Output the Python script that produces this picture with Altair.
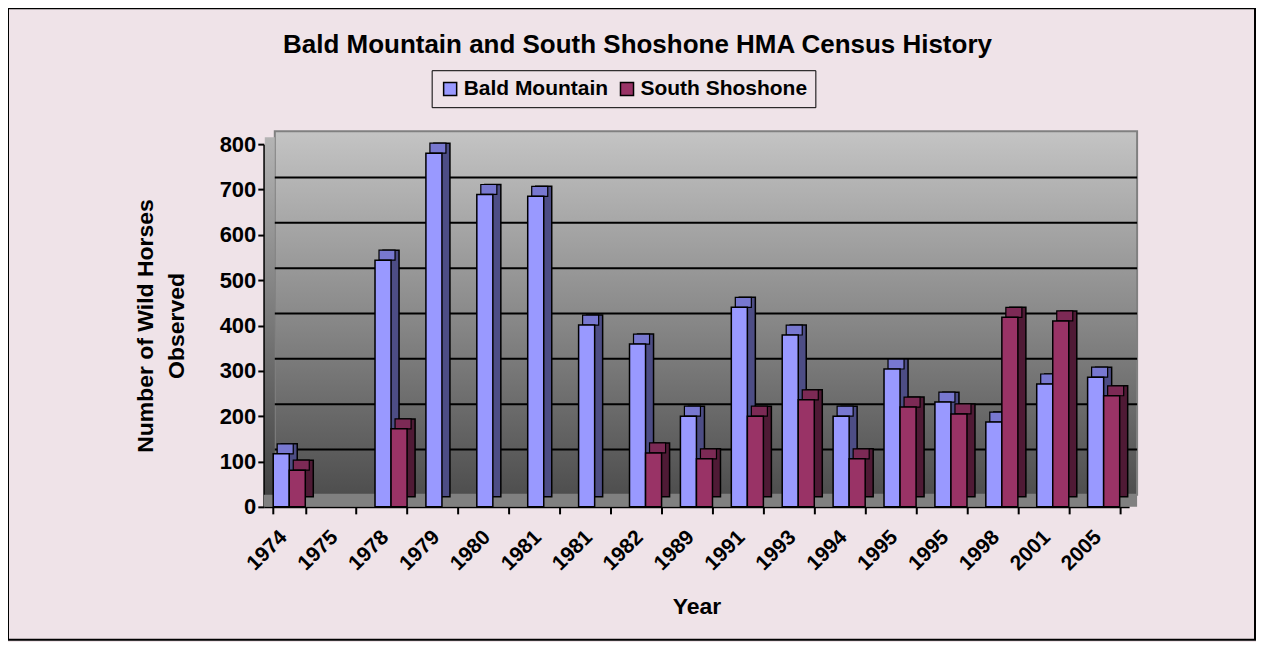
import altair as alt
import pandas as pd

years = ["1974", "1975", "1978", "1979", "1980", "1981", "1981", "1982", "1989",
         "1991", "1993", "1994", "1995", "1995", "1998", "2001", "2005"]
bald_mountain = [117, None, 544, 780, 689, 685, 401, 359, 200, 440, 379, 200, 304, 231, 187, 271, 286]
south_shoshone = [81, None, 172, None, None, None, None, 119, 106, 200, 236, 106, 220, 205, 418, 410, 245]
series = ["Bald Mountain", "South Shoshone"]
front_colors = ["#9999FF", "#993366"]
side_colors = ["#4D4D85", "#4F1A35"]
top_colors = ["#7878D0", "#7C2A55"]
y_ticks = [0, 100, 200, 300, 400, 500, 600, 700, 800]
grid_values = [100, 200, 300, 400, 500, 600, 700]
title_text = "Bald Mountain and South Shoshone HMA Census History"

rows = []
for i, y in enumerate(years):
    for k, vals in enumerate([bald_mountain, south_shoshone]):
        v = vals[i]
        if v is not None:
            rows.append({"idx": i, "year": y, "series": series[k], "value": v,
                         "side": side_colors[k], "top": top_colors[k]})
df = pd.DataFrame(rows)

W, H = 866, 363
FONT = "Liberation Sans"
label_expr = "[" + ",".join("'%s'" % y for y in years) + "][datum.value]"

one = pd.DataFrame({"k": [0]})

domain_idx = list(range(len(years)))
PI, PO = 0.37, 0.185
x_scale = alt.Scale(domain=domain_idx, paddingInner=PI, paddingOuter=PO)
x_scale_side = alt.Scale(domain=domain_idx, paddingInner=PI, paddingOuter=PO, range=[8, W + 8])
x_scale_top = alt.Scale(domain=domain_idx, paddingInner=PI, paddingOuter=PO, range=[4, W + 4])
y_scale = alt.Scale(domain=[0, 800])

y_axis = alt.Axis(title=["Number of Wild Horses", "Observed"], values=y_ticks,
                  grid=False, labelFont=FONT, labelFontSize=22, labelFontWeight="bold",
                  labelColor="black", tickColor="black", tickWidth=2, tickSize=6,
                  domainColor="black", domainWidth=2, labelPadding=2,
                  titleFont=FONT, titleFontSize=23, titleFontWeight="bold",
                  titleColor="black", titlePadding=31, titleLineHeight=31)
x_axis = alt.Axis(title="Year", labelExpr=label_expr, labelAngle=-45,
                  labelAlign="right", labelBaseline="middle",
                  labelFont=FONT, labelFontSize=21, labelFontWeight="bold",
                  labelColor="black", tickBand="extent", tickColor="black",
                  tickWidth=2, tickSize=7, domainColor="black", domainWidth=2,
                  titleFont=FONT, titleFontSize=23, titleFontWeight="bold",
                  titleColor="black", titlePadding=22, labelPadding=20, labelOffset=-6)

# outer border
border = alt.Chart(one).mark_rect(fill="transparent", stroke="black", strokeWidth=2).encode(
    x=alt.value(-256), x2=alt.value(W + 126), y=alt.value(-136), y2=alt.value(H + 133)
)

title = alt.Chart(one).mark_text(font=FONT, fontSize=26, fontWeight="bold", color="black",
                                 align="center", baseline="middle").encode(
    x=alt.value(374), y=alt.value(-99), text=alt.value(title_text)
)

# back wall with gradient
wall = alt.Chart(one).mark_rect(
    color=alt.Gradient(gradient="linear", x1=0, y1=0, x2=0, y2=1,
                       stops=[alt.GradientStop(color="#C4C4C4", offset=0),
                              alt.GradientStop(color="#8A8A8A", offset=0.5),
                              alt.GradientStop(color="#4E4E4E", offset=1)]),
    stroke="#808080", strokeWidth=2
).encode(x=alt.value(11), x2=alt.value(W + 8), y=alt.value(-13), y2=alt.value(H - 12))

# left side wall
side_wall = alt.Chart(one).mark_rect(
    color=alt.Gradient(gradient="linear", x1=0, y1=0, x2=0, y2=1,
                       stops=[alt.GradientStop(color="#B4B4B4", offset=0),
                              alt.GradientStop(color="#404040", offset=1)]),
).encode(x=alt.value(1), x2=alt.value(11), y=alt.value(-7), y2=alt.value(H - 6))

# floor
floor = alt.Chart(one).mark_rect(color="#808080").encode(
    x=alt.value(0), x2=alt.value(W + 8), y=alt.value(H - 12), y2=alt.value(H)
)

grid = alt.Chart(pd.DataFrame({"g": grid_values})).mark_rule(
    color="black", strokeWidth=2, yOffset=-12
).encode(
    y=alt.Y("g:Q", scale=y_scale, axis=y_axis),
    x=alt.value(11), x2=alt.value(W + 8),
)

side_bars = alt.Chart(df).mark_bar(
    yOffset=-10, stroke="black", strokeWidth=1.5
).encode(
    x=alt.X("idx:O", scale=x_scale_side, axis=None),
    xOffset=alt.XOffset("series:N", sort=series),
    y=alt.Y("value:Q", scale=y_scale, axis=y_axis),
    color=alt.Color("side:N", scale=None, legend=None),
)

top_faces = alt.Chart(df).mark_bar(
    yOffset=-10, y2Offset=0, stroke="black", strokeWidth=1.2
).encode(
    x=alt.X("idx:O", scale=x_scale_top, axis=None),
    xOffset=alt.XOffset("series:N", sort=series),
    y=alt.Y("value:Q", scale=y_scale, axis=y_axis),
    y2="value:Q",
    color=alt.Color("top:N", scale=None, legend=None),
)

front_bars = alt.Chart(df).mark_bar(stroke="black", strokeWidth=1.5).encode(
    x=alt.X("idx:O", scale=x_scale, axis=x_axis),
    xOffset=alt.XOffset("series:N", sort=series),
    y=alt.Y("value:Q", scale=y_scale, axis=y_axis),
    color=alt.Color("series:N", sort=series,
                    scale=alt.Scale(domain=series, range=front_colors),
                    legend=alt.Legend(title=None, orient="none", legendX=168, legendY=-74,
                                      direction="horizontal", strokeColor="black",
                                      padding=8, symbolType="square", symbolSize=170,
                                      symbolStrokeColor="black", symbolStrokeWidth=1.5,
                                      labelFont=FONT, labelFontSize=21, labelFontWeight="bold",
                                      labelColor="black", columnPadding=8, labelOffset=3,
                                      labelLimit=400)),
)

chart = alt.layer(border, title, wall, side_wall, floor, grid, side_bars, top_faces, front_bars).resolve_scale(
    x="independent", xOffset="independent", color="independent"
).properties(
    width=W, height=H,
    background="#EFE3E8",
    padding={"left": 256, "top": 136, "right": 127, "bottom": 135},
    autosize=alt.AutoSizeParams(type="none"),
).configure_view(stroke=None)

chart.save("out.html", embed_options={"renderer": "svg", "actions": False})
